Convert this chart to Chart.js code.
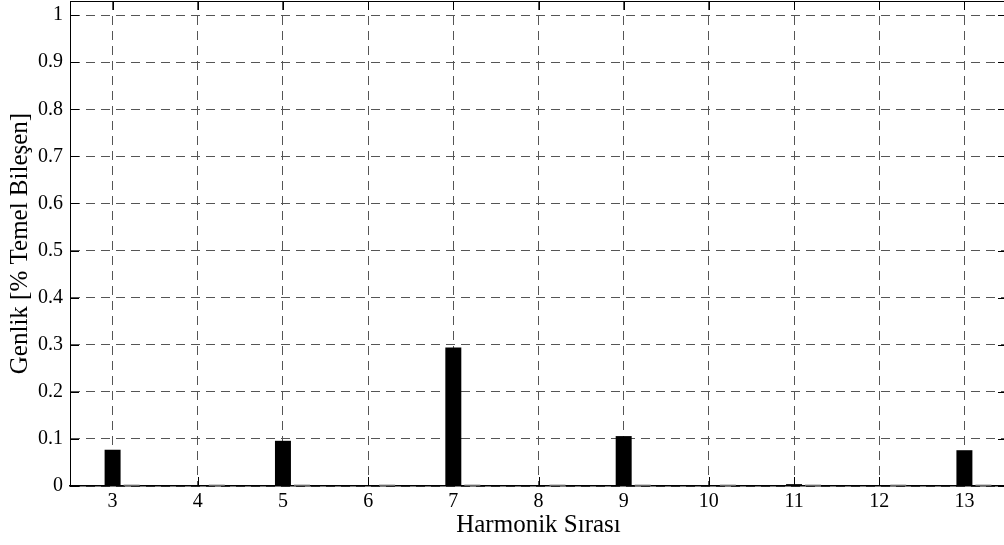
<!DOCTYPE html>
<html>
<head>
<meta charset="utf-8">
<script src="https://cdn.jsdelivr.net/npm/chart.js@4/dist/chart.umd.min.js"></script>
<style>
  html, body { margin: 0; padding: 0; background: #fff; overflow: hidden; }
  #wrap { width: 1007px; height: 545px; }
</style>
</head>
<body>
<div id="wrap"><canvas id="chart" width="1007" height="545"></canvas></div>
<script>
// Harmonic orders on the horizontal axis
const harmonics = ['3', '4', '5', '6', '7', '8', '9', '10', '11', '12', '13'];
// Harmonic amplitudes (% of fundamental), three grouped series
const seriesLeft = [0, 0, 0, 0, 0, 0, 0, 0, 0, 0, 0];
const seriesMain = [0.077, 0, 0.096, 0, 0.294, 0, 0.106, 0, 0.004, 0, 0.076];
const seriesRight = [0, 0, 0, 0, 0, 0, 0, 0, 0, 0, 0];
// Vertical axis ticks
const yTicks = [0, 0.1, 0.2, 0.3, 0.4, 0.5, 0.6, 0.7, 0.8, 0.9, 1];
const yTickLabels = ['0', '0.1', '0.2', '0.3', '0.4', '0.5', '0.6', '0.7', '0.8', '0.9', '1'];

const serif = 'Liberation Serif, Times New Roman, serif';
const TICK_LEN = 9;

// Closes the box on the top and right and draws inward tick marks
const frameBox = {
  id: 'frameBox',
  afterDatasetsDraw(chart) {
    const { ctx, chartArea: a, scales: { x, y } } = chart;
    ctx.save();
    ctx.strokeStyle = '#000';
    ctx.lineWidth = 1;
    ctx.beginPath();
    ctx.moveTo(a.left, a.top + 0.5);
    ctx.lineTo(a.right, a.top + 0.5);
    ctx.moveTo(a.right - 0.5, a.top);
    ctx.lineTo(a.right - 0.5, a.bottom);
    x.ticks.forEach((t, i) => {
      const px = Math.round(x.getPixelForTick(i)) + 0.5;
      ctx.moveTo(px, a.top);
      ctx.lineTo(px, a.top + TICK_LEN);
      ctx.moveTo(px, a.bottom);
      ctx.lineTo(px, a.bottom - TICK_LEN);
    });
    y.ticks.forEach((t) => {
      const py = Math.round(y.getPixelForValue(t.value)) + 0.5;
      ctx.moveTo(a.left, py);
      ctx.lineTo(a.left + TICK_LEN, py);
      ctx.moveTo(a.right, py);
      ctx.lineTo(a.right - TICK_LEN, py);
    });
    ctx.stroke();
    ctx.restore();
  }
};

const barOpts = { barPercentage: 0.84, categoryPercentage: 0.67, borderWidth: 0 };

new Chart(document.getElementById('chart'), {
  type: 'bar',
  data: {
    labels: harmonics,
    datasets: [
      Object.assign({ label: 'A', data: seriesLeft, backgroundColor: '#000', minBarLength: 1 }, barOpts),
      Object.assign({ label: 'B', data: seriesMain, backgroundColor: '#000' }, barOpts),
      Object.assign({ label: 'C', data: seriesRight, backgroundColor: '#cccccc', minBarLength: 2 }, barOpts)
    ]
  },
  options: {
    responsive: false,
    animation: false,
    devicePixelRatio: 1,
    layout: { padding: { top: 1, right: 0, left: 0, bottom: 0 } },
    plugins: { legend: { display: false }, tooltip: { enabled: false } },
    scales: {
      x: {
        grid: { offset: false, drawTicks: false, color: '#555', lineWidth: 1 },
        border: { display: true, color: '#000', width: 1.5, dash: [9, 6] },
        ticks: { color: '#000', font: { family: serif, size: 20 }, padding: 4, maxRotation: 0 },
        title: {
          display: true, text: 'Harmonik Sırası', color: '#000',
          font: { family: serif, size: 25 }, padding: { top: 0, bottom: 5 }
        },
        afterFit(scale) { scale.height = 59; scale.paddingLeft = 0; scale.paddingRight = 0; }
      },
      y: {
        min: 0, max: 1.03,
        grid: { drawTicks: false, color: '#555', lineWidth: 1 },
        border: { display: true, color: '#000', width: 1, dash: [9, 6] },
        afterBuildTicks(scale) { scale.ticks = yTicks.map(v => ({ value: v })); },
        ticks: {
          color: '#000', font: { family: serif, size: 20 }, padding: 7,
          callback: (v, i) => yTickLabels[i]
        },
        title: {
          display: true, text: 'Genlik [% Temel Bileşen]', color: '#000',
          font: { family: serif, size: 25 }, padding: { top: 5, bottom: 0 }
        },
        afterFit(scale) { scale.width = 70; scale.paddingTop = 0; scale.paddingBottom = 0; }
      }
    }
  },
  plugins: [frameBox]
});
</script>
</body>
</html>
